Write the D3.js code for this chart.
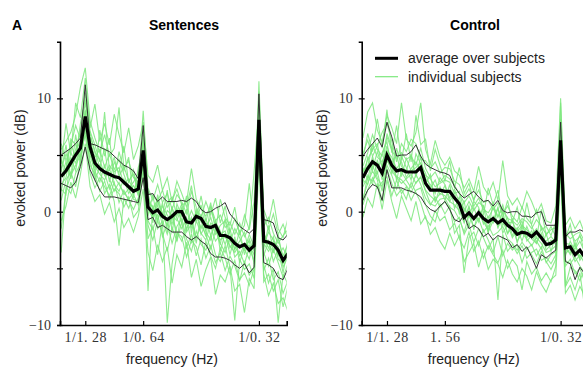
<!DOCTYPE html>
<html><head><meta charset="utf-8">
<script src="https://cdn.jsdelivr.net/npm/d3@7"></script>
<style>html,body{margin:0;padding:0;background:#fff;overflow:hidden}</style>
</head><body>
<svg id="chart" width="583" height="367"></svg>
<script>
// frequency bins (Hz)
const freqs = [0.456,0.521,0.586,0.651,0.716,0.781,0.846,0.911,0.977,1.042,
 1.107,1.172,1.237,1.302,1.367,1.432,1.497,1.563,1.628,1.693,
 1.758,1.823,1.888,1.953,2.018,2.083,2.148,2.214,2.279,2.344,
 2.409,2.474,2.539,2.604,2.669,2.734,2.799,2.865,2.930,2.995,
 3.060,3.125,3.190,3.255,3.320,3.385,3.451,3.516];

// Sentences panel
const sentMean = [3.1,3.6,4.3,5.0,5.6,8.4,5.7,4.3,3.8,3.5, 3.3,3.1,3.0,2.6,2.2,1.8,2.0,5.4,0.4,-0.1, 0.15,-0.4,-0.7,-0.4,0.0,0.0,-0.9,-1.0,-0.4,-0.6, -1.3,-1.4,-1.2,-2.1,-2.1,-2.3,-2.8,-3.1,-2.9,-3.4, -3.0,8.1,-2.6,-2.7,-2.9,-3.4,-4.3,-3.7];
const sentUpper = [5.0,5.3,5.6,6.0,6.5,11.2,6.0,5.9,5.7,5.5, 5.3,4.9,4.5,4.1,3.9,3.6,2.9,7.6,1.5,1.6, 0.9,1.3,0.9,0.9,0.9,1.0,0.9,1.2,0.9,0.2, -0.1,0.0,0.3,0.5,0.8,-0.2,-0.7,-1.3,-1.6,-1.9, -1.5,10.4,-0.7,-0.8,-1.0,-2.3,-2.5,-2.0];
const sentLower = [2.5,2.3,2.1,2.6,4.0,5.7,3.7,2.8,1.9,1.3, 1.3,1.3,1.2,1.1,1.0,0.9,0.8,3.0,-0.7,-0.5, -1.4,-1.2,-1.5,-1.8,-1.8,-1.8,-2.2,-2.5,-2.2,-2.6, -2.9,-3.7,-4.0,-4.0,-4.1,-4.3,-4.7,-5.0,-4.6,-5.4, -4.9,6.0,-4.5,-4.7,-5.0,-5.8,-6.0,-5.0];
const sentS1 = [5.5,6.2,7.0,8.5,11.0,12.7,8.0,6.5,5.2,6.8, 4.9,5.6,9.2,3.8,4.5,3.0,2.6,8.9,2.1,1.0, 2.4,0.8,1.6,0.2,1.5,0.9,-0.2,1.8,0.4,-0.5, 0.9,-0.3,1.2,-1.0,0.5,-1.8,-0.6,-1.9,-1.2,2.5, -1.5,11.5,-0.4,-1.6,-0.2,-2.0,-1.1,-2.4];
const sentS2 = [1.0,2.8,3.5,2.2,4.6,7.2,4.5,2.8,3.9,1.6, 2.4,0.9,-3.0,1.2,0.3,1.5,0.6,3.8,-1.2,-2.5, -0.8,-1.9,-3.5,-1.4,-2.6,-0.9,-3.2,-2.0,-3.9,-2.4, -4.1,-3.0,-4.5,-3.6,-5.2,-3.9,-4.8,-6.1,-4.4,-5.6, -4.9,6.2,-4.7,-6.3,-5.0,-9.8,-5.5,-6.4];
const sentS3 = [6.0,4.5,5.8,7.6,6.4,10.5,7.1,5.9,4.4,8.8, 3.6,4.8,3.1,4.0,2.7,3.3,1.9,6.5,1.4,0.2, 1.1,-0.6,0.8,1.3,-0.4,0.7,-1.1,0.1,-0.9,0.6, -1.6,-0.5,-2.0,-1.2,-0.8,-2.7,-1.5,-2.3,-3.4,-2.0, -3.1,9.4,-1.9,-2.8,-3.6,-2.4,-3.9,-2.9];
const sentS4 = [-1.5,1.9,3.2,4.1,5.0,6.8,3.4,2.1,3.0,2.2, 1.4,2.6,0.8,1.9,1.0,0.2,1.2,4.1,-0.8,-1.6, -0.2,-2.2,-1.0,-2.8,-1.3,-0.6,-2.4,-3.5,-1.7,-2.9, -3.4,-2.1,-3.8,-4.4,-3.0,-4.9,-9.6,-4.2,-5.1,-4.6, -5.9,7.2,-5.2,-4.1,-6.0,-5.3,-7.2,-6.1];
const sentS5 = [3.8,5.1,4.0,5.5,7.1,9.6,6.9,5.2,4.6,3.2, 4.1,3.5,3.9,2.4,2.9,1.8,2.8,5.9,0.9,0.4, -0.7,0.5,-0.3,-1.1,0.3,-0.9,0.2,-1.4,-0.1,-1.5, -0.6,-2.1,-0.9,-1.7,-2.9,-1.5,-3.3,-2.6,-1.8,-3.6, -2.7,8.8,-3.0,-1.8,-2.5,-3.9,-3.2,-4.1];
const sentS6 = [2.4,3.0,5.2,4.3,5.6,8.1,5.0,3.6,2.6,4.1, 2.9,1.8,2.6,1.5,2.0,1.1,0.9,4.9,-7.0,0.6, -1.5,-0.8,-2.0,-0.5,-1.8,-2.6,-1.4,-0.7,-2.3,-1.2, -2.0,-3.3,-1.6,-2.8,-3.6,-2.2,-4.0,-3.5,-4.6,-3.1, -4.4,7.9,-3.6,-4.8,-3.3,-4.5,-5.8,-4.6];
const sentS7 = [4.6,3.5,6.4,5.9,4.8,8.9,6.3,4.8,5.5,3.9, 5.1,3.7,4.6,3.3,2.1,2.6,3.4,6.1,1.7,1.4, 0.9,1.9,0.4,1.0,2.0,0.6,0.8,3.8,1.1,0.3, -0.4,0.5,-0.8,-0.3,-1.4,-0.9,-2.0,-1.0,-2.2,-1.4, 3.5,9.0,-1.3,-0.5,-1.9,-2.8,-2.1,-1.6];
const sentS8 = [-3.6,2.2,1.6,3.4,4.2,7.5,4.1,3.3,1.8,2.7, 1.1,2.0,1.6,0.4,1.3,-0.5,0.1,3.3,-2.4,-1.3, -3.8,-0.9,-9.8,-4.6,-1.9,-2.2,-4.0,-2.5,-3.1,-4.7, -2.6,-3.9,-5.0,-3.2,-4.1,-5.5,-4.3,-6.0,-5.4,-6.5, -5.0,5.4,-6.2,-5.5,-7.0,-6.0,-8.4,-6.6];
const sentS9 = [3.0,4.4,2.9,5.2,6.3,9.0,5.6,4.0,3.3,2.8, 3.8,2.4,1.8,2.9,1.6,2.3,1.5,5.2,0.3,-0.6, 0.6,-1.2,0.1,-0.3,-0.8,0.4,-1.8,-1.1,0.0,-2.0, -1.0,-1.3,-2.6,-2.0,-1.7,-3.2,-2.5,-3.9,-2.8,-3.0, -3.8,8.4,-2.4,-3.2,-2.2,-4.2,-4.6,-3.5];
const sentS10 = [2.0,1.5,4.8,3.6,6.0,7.9,5.3,3.9,4.1,3.4, 2.0,3.1,2.4,1.7,1.1,1.7,2.5,4.6,0.6,-0.4, 0.9,-0.2,-1.2,0.3,-0.6,-1.5,-0.5,-2.8,-0.8,-1.9, -2.5,-1.0,-1.4,-2.5,-2.2,-3.0,-3.6,-2.9,-3.3,-4.2, -2.3,7.5,-2.8,-3.5,-2.6,-3.1,-4.9,-4.0];
const sentS11 = [4.2,7.8,5.1,9.6,8.3,11.8,7.4,9.5,6.2,7.8, 5.9,8.6,6.8,5.2,7.4,4.6,5.8,7.9,3.2,2.6, 4.1,1.9,3.0,0.8,2.7,1.6,0.4,2.3,-0.6,1.4, -0.9,0.8,-1.7,1.1,-0.5,-1.2,0.4,-2.1,-0.3,-1.6, 0.9,10.6,0.2,-1.0,1.1,-1.5,-2.3,-0.6];
const sentS12 = [-0.8,0.5,2.6,1.2,3.3,6.0,2.2,0.9,1.5,-0.2, 0.8,-0.9,0.3,-1.4,-0.6,-1.8,-0.4,2.0,-3.6,-5.2, -2.9,-4.4,-3.1,-6.3,-3.8,-4.9,-2.7,-5.8,-4.2,-6.6, -5.1,-4.0,-7.3,-5.6,-6.2,-4.8,-7.0,-6.4,-8.9,-5.9, -6.8,4.6,-5.5,-7.4,-6.3,-8.1,-7.6,-8.8];
const sentS13 = [3.5,5.9,3.0,6.8,4.1,8.6,6.0,3.1,7.2,4.9, 6.5,2.9,5.3,3.6,4.8,1.2,3.9,5.6,1.8,-1.0, 1.5,-0.3,1.9,-1.8,0.7,-0.4,1.4,-1.9,0.2,-0.8, -2.2,0.4,-1.3,-2.9,-0.6,-2.0,-3.4,-1.6,-3.8,-2.4, -3.5,8.0,-3.3,-1.2,-3.6,-2.0,-4.4,-2.6];
const sentS14 = [1.8,3.9,6.1,4.6,7.8,9.9,6.6,5.4,3.9,5.6, 2.6,4.4,3.4,5.8,2.5,3.7,1.4,6.8,-0.4,1.5, -0.9,0.8,-1.8,0.5,-2.6,0.3,-1.6,-0.5,-2.8,-0.2, -1.8,-2.5,-0.7,-3.5,-1.9,-3.8,-2.2,-4.5,-3.0,-2.6, -4.6,9.2,-3.9,-2.6,-4.4,-3.3,-5.4,-3.1];

// Control panel
const ctrlMean = [3.0,3.8,4.4,4.1,3.4,5.0,4.1,3.6,3.7,3.5, 3.5,3.5,3.9,2.5,1.9,1.9,1.9,1.8,1.8,1.2, 0.7,-0.5,-0.1,-0.6,-0.1,-0.6,-0.9,-0.6,-1.0,-0.7, -1.2,-1.5,-2.0,-1.8,-1.9,-2.2,-1.8,-2.3,-2.9,-2.8, -2.5,6.3,-3.2,-3.1,-3.8,-3.4,-4.0,-3.8];
const ctrlUpper = [4.9,5.5,6.0,6.5,5.7,7.9,6.6,4.9,5.0,5.0, 5.3,5.9,4.9,4.2,3.9,3.7,3.5,3.4,3.2,2.2, 1.6,1.2,1.5,1.8,1.3,0.9,1.0,0.5,1.0,0.1, -0.1,0.0,0.0,-0.4,-0.4,-0.5,-0.1,0.0,-1.2,-1.2, -1.2,7.9,-2.2,-1.8,-1.8,-1.6,-1.8,-2.0];
const ctrlLower = [1.0,1.9,2.4,2.2,1.0,3.7,2.1,2.1,2.1,1.9, 1.8,1.6,1.3,0.6,0.2,0.0,0.5,0.9,0.2,-0.7, -0.9,-0.3,-1.5,-1.2,-1.5,-2.2,-1.9,-2.5,-2.1,-2.3, -2.5,-3.2,-2.9,-3.5,-3.1,-4.0,-5.0,-3.8,-4.1,-3.7, -3.4,5.0,-4.4,-4.6,-6.0,-4.9,-5.5,-5.0];
const ctrlS1 = [6.5,8.8,9.6,7.2,6.1,8.5,7.4,6.0,9.6,6.4, 5.8,7.0,9.6,5.5,4.2,6.3,4.8,4.1,4.8,3.6, 3.2,2.1,2.9,1.8,4.0,2.2,1.5,2.6,1.0,4.5, 1.4,0.6,1.2,0.3,1.8,0.9,-0.2,0.7,-0.8,-1.0, 0.5,10.0,-1.2,-0.5,-1.5,-0.8,-2.0,-1.6];
const ctrlS2 = [1.2,2.5,3.6,2.8,0.9,3.8,2.5,1.4,2.0,1.1, 2.6,1.7,0.8,-0.6,-1.2,0.1,-0.8,-0.4,-1.6,-1.0, -2.4,-3.2,-1.8,-3.5,-2.6,-4.1,-3.0,-3.8,-4.5,-3.4, -5.0,-4.2,-4.8,-6.9,-4.4,-5.5,-4.9,-6.1,-5.4,-6.2, -4.8,4.0,-6.6,-5.8,-6.9,-5.4,-8.5,-6.8];
const ctrlS3 = [4.0,5.2,6.8,5.5,4.9,6.6,5.4,4.7,5.2,4.6, 4.9,4.1,5.6,3.8,3.0,3.5,2.6,3.2,2.9,2.3, 1.6,0.8,1.4,0.5,1.2,0.2,-0.1,0.6,-0.4,0.3, -0.6,-0.8,-1.2,-0.6,-0.9,-1.5,-0.7,-1.3,-2.0,-1.6, -1.4,8.2,-2.1,-1.7,-2.6,-2.2,-2.8,-2.5];
const ctrlS4 = [2.2,3.1,2.7,3.5,1.8,4.1,3.2,2.0,3.5,2.8, 2.1,3.3,2.4,1.2,0.6,1.3,0.4,0.9,0.2,-0.9, -0.5,-2.0,-1.1,-2.7,-1.5,-2.3,-3.3,-2.4,-7.8,-2.0, -3.5,-2.9,-3.7,-3.0,-4.1,-3.6,-3.3,-4.3,-4.0,-4.6, -3.8,5.1,-4.8,-4.2,-5.5,-5.0,-6.2,-5.3];
const ctrlS5 = [3.4,4.6,5.5,6.0,3.9,5.8,4.3,5.1,3.1,4.7, 3.6,3.9,4.3,2.9,2.4,1.6,3.0,2.4,1.2,2.0, 0.8,0.3,-0.5,0.9,0.4,-1.1,-0.4,-1.0,0.3,-1.2, -0.5,-2.1,-1.4,-2.6,-1.3,-2.4,-2.8,-1.9,-3.4,-2.9, -2.2,6.8,-3.4,-3.6,-2.9,-4.0,-3.5,-4.3];
const ctrlS6 = [0.6,1.9,3.0,2.1,2.6,3.1,1.4,2.8,1.6,2.2, 1.0,1.9,2.1,0.6,-0.4,-0.9,0.7,-0.2,0.5,-1.9, -1.2,-5.4,-2.3,-1.8,-3.0,-1.6,-2.5,-3.6,-2.2,-3.9, -2.8,-3.4,-2.9,-4.5,-3.2,-3.8,-4.6,-3.5,-4.4,-5.1, -4.2,4.6,-6.6,-4.9,-5.2,-6.1,-5.0,-5.8];
const ctrlS7 = [5.1,6.3,4.9,5.8,7.0,7.8,6.2,4.4,6.0,5.3, 6.4,6.0,4.6,4.5,3.8,4.4,3.4,3.9,3.8,2.7, 2.4,1.3,2.0,1.1,1.9,0.8,1.0,0.2,0.8,-0.2, 0.5,-0.4,-0.9,0.4,-0.6,-1.1,0.2,-1.6,-1.3,-2.1, -0.9,7.4,-1.9,-2.4,-2.0,-1.8,-2.7,-2.2];
const ctrlS8 = [2.8,2.4,4.1,3.0,2.2,4.6,3.6,3.0,2.5,2.9, 3.3,2.5,3.1,1.9,1.4,1.0,1.6,1.4,0.9,0.6, 0.1,-1.0,0.4,-0.7,-0.2,-0.9,-1.6,-0.4,-1.3,-0.8, -1.9,-1.4,-2.6,-1.9,-2.4,-3.0,-2.3,-2.8,-3.6,-3.4, -3.0,6.0,-3.7,-3.3,-4.4,-3.8,-4.6,-4.1];
const ctrlS9 = [3.6,4.0,5.9,4.8,4.4,5.4,4.8,3.8,4.4,3.0, 3.8,4.4,3.6,3.2,2.9,2.2,2.5,2.8,2.6,1.6, 1.8,0.0,0.9,0.1,0.8,0.5,-0.6,0.3,-0.5,0.6, -1.0,-0.9,-1.8,-1.2,-1.6,-2.0,-1.5,-2.4,-2.6,-2.2, -2.7,6.6,-2.8,-2.9,-3.3,-2.6,-3.6,-3.2];
const ctrlS10 = [0.9,3.2,2.4,4.6,2.8,4.5,3.9,3.1,2.8,2.3, 1.7,2.6,3.0,1.8,0.7,0.5,1.1,1.2,0.4,0.1, -0.7,-1.8,-0.3,-1.4,-0.6,-1.8,-1.2,-2.1,-1.8,-1.3, -2.4,-2.8,-3.4,-2.7,-3.3,-2.9,-3.9,-3.1,-4.5,-3.8, -3.5,5.6,-4.3,-4.6,-4.0,-4.8,-5.4,-4.7];
const ctrlS11 = [4.6,6.9,5.3,8.2,5.6,9.0,5.2,7.6,4.5,6.9, 4.4,8.5,5.9,6.4,3.6,5.5,4.1,2.7,4.5,2.1, 3.9,1.6,2.5,0.9,2.8,-0.3,2.1,0.6,1.9,-0.6, 1.0,-0.9,0.4,-1.7,0.8,-1.2,-2.4,0.2,-2.1,-1.3, -2.2,9.6,-2.4,-1.1,-3.2,-2.0,-3.7,-2.6];
const ctrlS12 = [-0.5,1.2,0.4,2.5,0.2,2.8,0.9,-0.6,1.4,0.3, -0.8,0.9,-1.1,-0.4,-2.0,-1.4,-2.6,-3.3,-1.9,-3.0, -2.1,-4.4,-3.6,-2.8,-4.9,-3.4,-5.1,-4.2,-4.6,-5.8, -4.3,-5.5,-6.2,-5.0,-5.7,-6.9,-5.3,-6.4,-7.1,-6.0, -5.6,3.4,-7.2,-6.5,-7.8,-6.6,-7.4,-8.0];
const ctrlS13 = [3.9,2.8,4.9,3.3,5.2,6.2,3.3,5.6,4.0,3.6, 5.1,3.0,4.9,2.4,3.3,0.8,2.2,1.0,2.4,0.3, 1.3,-0.8,0.5,-1.6,0.2,-0.4,-1.9,0.9,-1.5,0.1, -2.0,-0.6,-2.8,-1.1,-2.3,-1.7,-2.6,-3.3,-1.9,-3.5, -2.0,7.0,-3.0,-3.8,-2.7,-4.3,-3.6,-4.2];
const ctrlS14 = [2.5,4.8,3.7,5.3,3.9,6.9,5.6,2.7,4.9,3.9, 2.8,5.1,4.2,3.4,2.1,2.8,1.5,2.3,0.9,1.7, -0.2,0.9,-1.3,0.4,-0.9,0.6,-1.8,-0.8,0.4,-1.9, -1.1,-2.3,-1.6,-0.8,-2.6,-2.1,-2.8,-1.4,-3.1,-2.5, -2.9,6.4,-3.9,-2.6,-3.5,-4.1,-3.2,-4.6];

// ticks
const yTicks = [-10,-5,0,5,10];
const yTickLabels = ["−10","","0","","10"];
const sentXTicks = [0.78125,1.5625,3.125];
const sentXLabels = ["1/1. 28","1/0. 64","1/0. 32"];
const ctrlXTicks = [0.78125,1.5625,3.125];
const ctrlXLabels = ["1/1. 28","1. 56","1/0. 32"];

const svg = d3.select("#chart");
const sans = "'Liberation Sans', Arial, sans-serif";
const serif = "'Liberation Serif', 'Times New Roman', serif";
const greenCol = "#7ce87c";

const y = d3.scaleLinear().domain([-10,15]).range([325,41.7]);

function panel(x0, id, title, titleX, mean, upper, lower, subjects, xt, xl) {
  const x = d3.scaleLinear().domain([0.44,3.5]).range([x0, x0+226.7]);
  const g = svg.append("g");
  svg.append("defs").append("clipPath").attr("id","clip"+id)
    .append("rect").attr("x",x0).attr("y",30).attr("width",226.7).attr("height",300);
  const line = d3.line().x((d,i)=>x(freqs[i])).y(d=>y(d));
  const lg = g.append("g").attr("clip-path","url(#clip"+id+")");
  subjects.forEach(s=>{
    lg.append("path").attr("d",line(s)).attr("fill","none")
      .attr("stroke",greenCol).attr("stroke-width",1.1).attr("stroke-opacity",0.85)
      .attr("stroke-linejoin","miter");
  });
  [upper,lower].forEach(s=>{
    lg.append("path").attr("d",line(s)).attr("fill","none")
      .attr("stroke","#333").attr("stroke-width",1);
  });
  lg.append("path").attr("d",line(mean)).attr("fill","none")
    .attr("stroke","#000").attr("stroke-width",3.2).attr("stroke-linejoin","miter").attr("stroke-miterlimit",3);

  // axes
  const ya = g.append("g").attr("transform",`translate(${x0},0)`)
    .call(d3.axisLeft(y).tickValues(yTicks).tickSize(3).tickFormat((d,i)=>yTickLabels[i]));
  ya.select(".domain").attr("stroke","#000").attr("stroke-width",1.6);
  ya.selectAll(".tick line").attr("x1",3).attr("x2",-3).attr("stroke-width",1.2);
  ya.selectAll(".tick text").attr("x",-9).attr("font-family",serif).attr("font-size",14).attr("fill","#333");
  const xa = g.append("g").attr("transform","translate(0,325)")
    .call(d3.axisBottom(x).tickValues(xt).tickSize(-4).tickFormat((d,i)=>xl[i]));
  xa.select(".domain").attr("stroke","#000").attr("stroke-width",1.6);
  xa.selectAll(".tick line").attr("stroke-width",1.2);
  xa.selectAll(".tick text").attr("y",7).attr("font-family",serif).attr("font-size",14)
    .attr("letter-spacing","0.5px").attr("fill","#333");

  g.append("text").attr("x",titleX).attr("y",30).attr("text-anchor","middle")
    .attr("font-family",sans).attr("font-weight","bold").attr("font-size",14).text(title);
  g.append("text").attr("transform",`translate(${x0-35},168) rotate(-90)`)
    .attr("text-anchor","middle").attr("font-family",sans).attr("font-size",14).attr("fill","#222")
    .text("evoked power (dB)");
  g.append("text").attr("x",x0+112).attr("y",364).attr("text-anchor","middle")
    .attr("font-family",sans).attr("font-size",14).attr("fill","#222").text("frequency (Hz)");
}

panel(60, "s", "Sentences", 184, sentMean, sentUpper, sentLower,
  [sentS1,sentS2,sentS3,sentS4,sentS5,sentS6,sentS7,sentS8,sentS9,sentS10,sentS11,sentS12,sentS13,sentS14], sentXTicks, sentXLabels);
panel(361.7, "c", "Control", 475, ctrlMean, ctrlUpper, ctrlLower,
  [ctrlS1,ctrlS2,ctrlS3,ctrlS4,ctrlS5,ctrlS6,ctrlS7,ctrlS8,ctrlS9,ctrlS10,ctrlS11,ctrlS12,ctrlS13,ctrlS14], ctrlXTicks, ctrlXLabels);

svg.append("text").attr("x",12).attr("y",30).attr("font-family",sans).attr("font-weight","bold")
  .attr("font-size",14).text("A");

// legend
const leg = svg.append("g");
leg.append("line").attr("x1",375).attr("x2",398).attr("y1",58.3).attr("y2",58.3).attr("stroke","#000").attr("stroke-width",3);
leg.append("line").attr("x1",375).attr("x2",398).attr("y1",76.7).attr("y2",76.7).attr("stroke",greenCol).attr("stroke-width",1.2);
leg.append("text").attr("x",408).attr("y",63).attr("font-family",sans).attr("font-size",14).attr("fill","#222").text("average over subjects");
leg.append("text").attr("x",408).attr("y",82).attr("font-family",sans).attr("font-size",14).attr("fill","#222").text("individual subjects");
</script>
</body></html>
